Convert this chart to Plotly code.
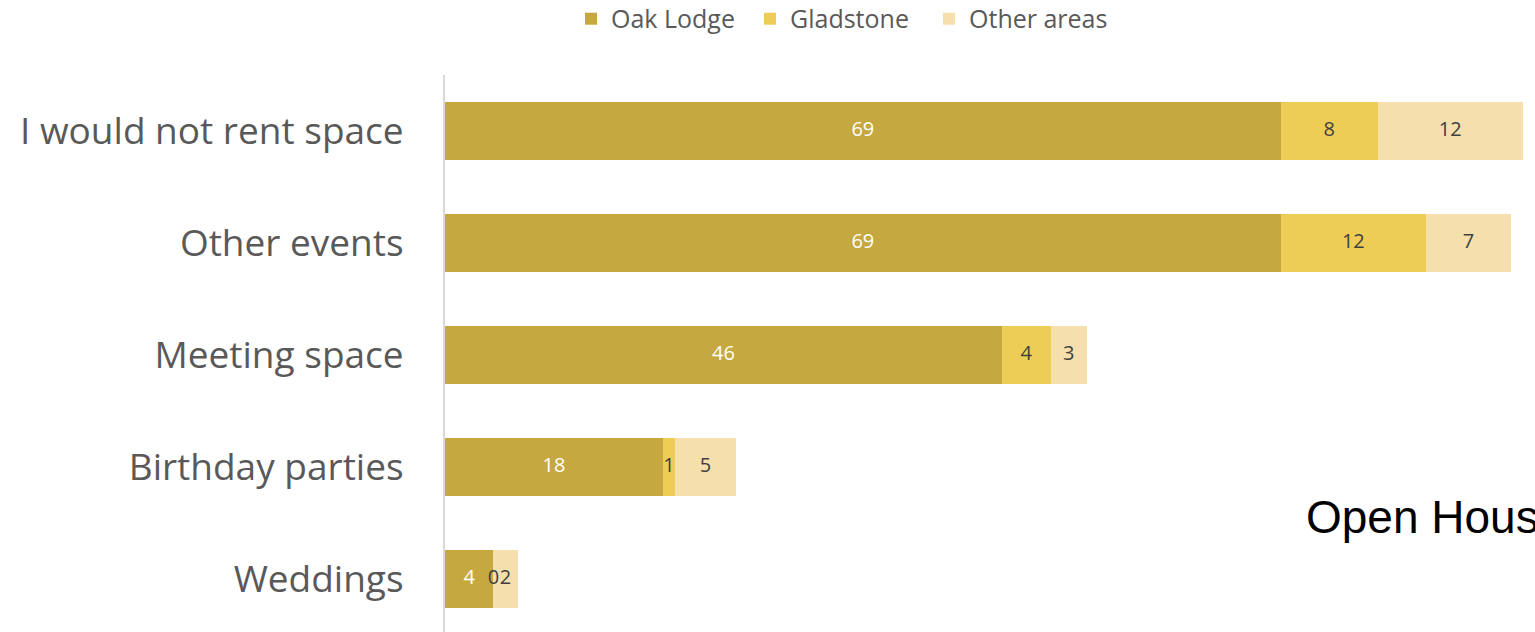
import plotly.graph_objects as go

# categories listed bottom-to-top (plotly puts the first category at the bottom)
categories = ["Weddings", "Birthday parties", "Meeting space", "Other events", "I would not rent space"]
oak_lodge = [4, 18, 46, 69, 69]
gladstone = [0, 1, 4, 12, 8]
other_areas = [2, 5, 3, 7, 12]

series = [
    ("Oak Lodge", oak_lodge, "#C5A840", "white"),
    ("Gladstone", gladstone, "#EECD57", "#404040"),
    ("Other areas", other_areas, "#F5E0AD", "#404040"),
]

fig = go.Figure()

base = [0] * len(categories)
for name, vals, color, txtcol in series:
    fig.add_trace(go.Bar(
        y=categories, x=vals, name=name, orientation="h",
        marker_color=color, marker_line_width=0,
    ))
    # value labels centred in each segment, placed through the x axis scale
    mids = [b + v / 2 for b, v in zip(base, vals)]
    fig.add_trace(go.Scatter(
        y=categories, x=mids, mode="text", text=[str(v) for v in vals],
        textfont=dict(family="Open Sans", size=20, color=txtcol),
        showlegend=False, hoverinfo="skip",
    ))
    base = [b + v for b, v in zip(base, vals)]

# the reference crops this title at the right edge
fig.add_annotation(
    text="Open House", xref="paper", yref="paper", x=0.788, y=0.206,
    xanchor="left", yanchor="middle", showarrow=False,
    font=dict(family="Liberation Sans", size=46, color="black"),
)

fig.update_layout(
    barmode="stack",
    bargap=0.49,
    width=1535, height=632,
    margin=dict(l=445, r=0, t=75, b=0),
    plot_bgcolor="white", paper_bgcolor="white",
    font=dict(family="Open Sans", color="#595959"),
    legend=dict(
        orientation="h", xref="container", yref="container",
        x=0.372, y=0.97, xanchor="left", yanchor="middle",
        entrywidth=134, entrywidthmode="pixels",
        font=dict(size=25, color="#595959"),
        traceorder="normal",
    ),
    xaxis=dict(range=[0, 90], showgrid=False, zeroline=False,
               showticklabels=False, showline=False),
    yaxis=dict(range=[-0.473, 4.5], showgrid=False, zeroline=False,
               showline=True, linecolor="#d9d9d9", linewidth=2,
               ticks="", ticklabelstandoff=32,
               tickfont=dict(size=37, color="#595959")),
)

fig.write_html(
    "out.html",
    config={"displayModeBar": False},
    post_script="document.body.style.margin='0';document.body.style.overflow='hidden';",
)
